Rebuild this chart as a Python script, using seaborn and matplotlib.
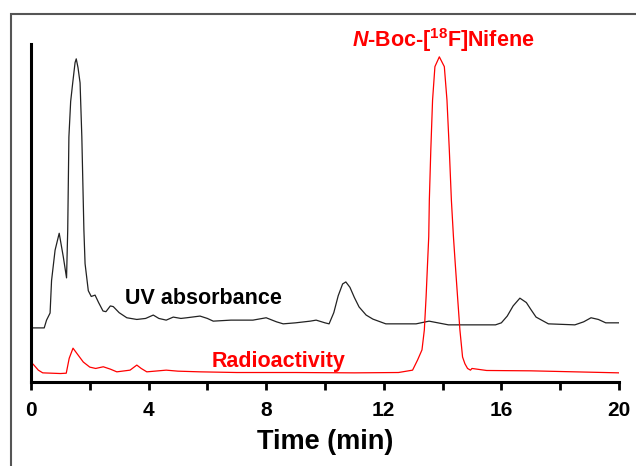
import numpy as np
import pandas as pd
import seaborn as sns
import matplotlib.pyplot as plt
from matplotlib.patches import Rectangle

# UV absorbance trace (time in min, signal in arbitrary units)
uv_time = [0.0, 0.45, 0.53, 0.65, 0.7, 0.82, 0.96, 1.1, 1.21, 1.25, 1.29, 1.35, 1.42, 1.5, 1.54,
           1.6, 1.67, 1.73, 1.8, 1.84, 1.95, 2.05, 2.18, 2.3, 2.45, 2.55, 2.7, 2.8, 3.0, 3.26,
           3.6, 3.9, 4.16, 4.35, 4.6, 4.84, 5.1, 5.3, 5.75, 6.0, 6.2, 6.8, 7.55, 8.0, 8.35,
           8.58, 9.0, 9.5, 9.7, 10.0, 10.14, 10.3, 10.45, 10.6, 10.71, 10.85, 11.0, 11.16, 11.4,
           11.63, 12.07, 13.1, 13.54, 14.2, 15.8, 16.0, 16.2, 16.4, 16.63, 16.85, 17.0, 17.18,
           17.6, 18.5, 18.8, 19.05, 19.3, 19.55, 20.0]
uv_signal = [16.0, 16.0, 18.3, 20.4, 30.0, 39.0, 44.0, 37.0, 30.8, 45.0, 72.5, 83.0, 88.5, 94.5, 95.6,
             93.0, 88.5, 72.5, 45.0, 35.0, 27.0, 25.3, 25.7, 23.5, 21.0, 20.8, 22.5, 22.3, 20.5, 19.0,
             18.5, 18.8, 19.8, 18.8, 18.3, 19.2, 18.8, 19.0, 19.5, 18.8, 18.0, 18.3, 18.3, 19.0, 17.8,
             17.2, 17.5, 18.0, 18.3, 17.5, 17.2, 20.5, 25.5, 29.0, 29.6, 28.0, 25.0, 22.2, 19.8,
             18.6, 17.2, 17.2, 18.0, 16.9, 16.9, 17.5, 19.5, 22.5, 24.8, 23.5, 21.5, 19.2,
             17.2, 16.9, 17.8, 19.0, 18.5, 17.5, 17.5]

# radioactivity trace
rad_time = [0.0, 0.1, 0.25, 0.4, 1.0, 1.2, 1.3, 1.43, 1.6, 1.78, 2.0, 2.2, 2.46, 2.7, 2.92, 3.37,
            3.6, 3.75, 3.94, 4.6, 5.0, 5.75, 7.0, 9.0, 11.0, 12.5, 12.98, 13.15, 13.3, 13.38,
            13.44, 13.49, 13.53, 13.55, 13.6, 13.66, 13.74, 13.89, 14.06, 14.15, 14.23, 14.3,
            14.37, 14.43, 14.51, 14.59, 14.68, 14.76, 14.85, 14.95, 15.0, 15.5, 17.0, 20.0]
rad_signal = [5.9, 5.0, 3.5, 2.7, 2.5, 2.6, 7.0, 10.0, 8.0, 5.9, 4.4, 4.0, 4.5, 3.8, 3.0, 3.5,
              5.0, 4.0, 3.0, 3.5, 3.2, 3.0, 2.8, 2.8, 2.7, 2.8, 3.5, 6.5, 9.5, 15.4,
              25.2, 35.2, 43.0, 53.8, 68.6, 83.4, 93.3, 96.2, 93.3, 83.4, 68.6, 53.8,
              43.0, 35.2, 25.2, 15.4, 7.4, 5.4, 4.0, 3.5, 4.0, 3.4, 3.3, 2.7]

x_ticks = [0, 4, 8, 12, 16, 20]
x_minor = [2, 6, 10, 14, 18]

sns.set_style("white")
plt.rcParams['font.family'] = ['Liberation Sans', 'DejaVu Sans']
plt.rcParams['font.weight'] = 'bold'
plt.rcParams['text.color'] = 'black'
plt.rcParams['axes.labelcolor'] = 'black'
plt.rcParams['xtick.color'] = 'black'
plt.rcParams['mathtext.fontset'] = 'custom'
plt.rcParams['mathtext.rm'] = 'Liberation Sans:bold'
plt.rcParams['mathtext.bf'] = 'Liberation Sans:bold'
plt.rcParams['mathtext.it'] = 'Liberation Sans:bold:italic'
plt.rcParams['mathtext.default'] = 'bf'

fig = plt.figure(figsize=(6.36, 4.66), dpi=100)
ax = fig.add_axes([0.0487, 0.1803, 0.9245, 0.7253])

sns.lineplot(x=uv_time, y=uv_signal, color='#222222', linewidth=0.9, ax=ax)
sns.lineplot(x=rad_time, y=rad_signal, color='#ff0000', linewidth=0.9, ax=ax)

ax.set_xlim(0, 20)
ax.set_ylim(0, 100)
ax.set_yticks([])
ax.set_xticks(x_ticks)
ax.set_xticks(x_minor, minor=True)
ax.set_xticklabels([str(t) for t in x_ticks], fontsize=15, fontweight='bold', color='black')
ax.tick_params(axis='x', which='both', direction='out', length=6, width=2, color='black',
               labelcolor='black', bottom=True)
ax.tick_params(axis='x', which='major', pad=8)
ax.set_xlabel('Time (min)', fontsize=19.5, fontweight='bold', labelpad=6, color='black')
ax.set_ylabel('')

for s in ['top', 'right']:
    ax.spines[s].set_visible(False)
for s in ['left', 'bottom']:
    ax.spines[s].set_color('black')
    ax.spines[s].set_linewidth(2.2)

ax.text(5.85, 23.1, 'UV absorbance', color='black', fontsize=15.5, fontweight='bold',
        ha='center', va='baseline')
ax.text(8.42, 4.4, 'Radioactivity', color='#ff0000', fontsize=15.5, fontweight='bold',
        ha='center', va='baseline')
ax.text(14.01, 99.1, r'$\mathit{N}$-Boc-[$^{18}$F]Nifene', color='#ff0000', fontsize=15.5,
        ha='center', va='baseline', clip_on=False)

# grey frame around the panel
fig.patches.append(Rectangle((11 / 636, -0.05), 1.1, 0.97 + 0.05, transform=fig.transFigure,
                             fill=False, edgecolor='#555555', linewidth=1.5))

fig.savefig('out.png', dpi=100)
